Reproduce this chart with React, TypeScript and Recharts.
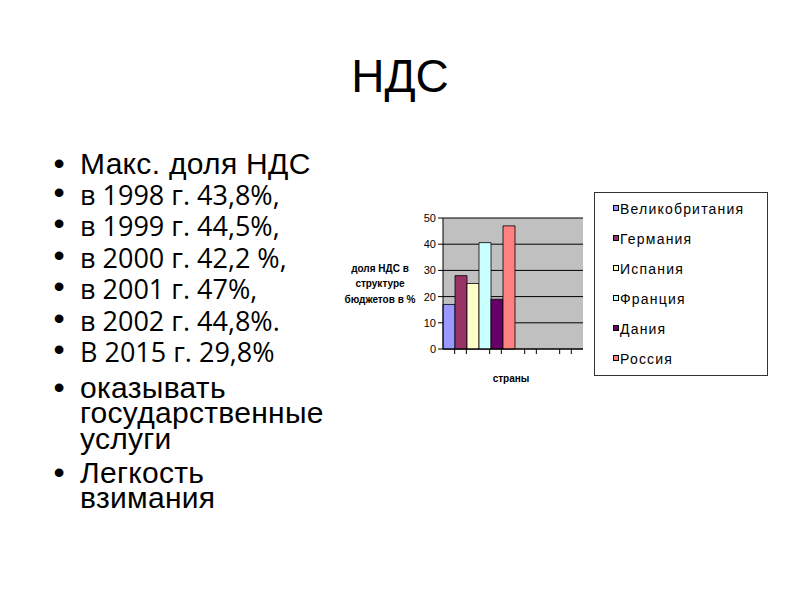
import { Bar, BarChart, CartesianGrid, Legend, XAxis, YAxis } from "recharts";

const countries = ["Великобритания", "Германия", "Испания", "Франция", "Дания", "Россия"];
const vatShare = [17, 28, 25, 40.6, 19, 47];
const barColors = ["#9999FF", "#993366", "#FFFFCC", "#CCFFFF", "#660066", "#FF8080"];
const yTicks = [0, 10, 20, 30, 40, 50];
const xTickMarks = [1, 2, 4, 5, 7, 8, 10, 11];

const yearLines = [
  "в 1998 г. 43,8%,",
  "в 1999 г. 44,5%,",
  "в 2000 г. 42,2 %,",
  "в 2001 г. 47%,",
  "в 2002 г. 44,8%.",
  "В 2015 г. 29,8%",
];
const yearBaselines = [205, 236, 268, 299, 331, 362];

const chartData = [
  { group: "страны", ...Object.fromEntries(countries.map((c, i) => [c, vatShare[i]])) },
];

const arial = "'Liberation Sans', Arial, sans-serif";
const calibri = "'Open Sans', 'Noto Sans', sans-serif";

function LegendBox({ payload }: any) {
  return (
    <div
      style={{
        boxSizing: "border-box",
        width: 174,
        height: 184,
        border: "1px solid #333",
        background: "#fff",
        paddingTop: 1,
        fontFamily: arial,
        fontSize: 14,
        letterSpacing: 1.2,
        color: "#000",
      }}
    >
      {(payload || []).map((entry: any) => (
        <div key={entry.value} style={{ height: 30, lineHeight: "30px", display: "flex", alignItems: "center" }}>
          <span
            style={{
              boxSizing: "border-box",
              width: 6,
              height: 6,
              marginLeft: 18,
              marginRight: 1,
              marginTop: -2,
              background: entry.color,
              border: "1px solid #000",
            }}
          />
          <span>{entry.value}</span>
        </div>
      ))}
    </div>
  );
}

function Bullet({ y }: { y: number }) {
  return (
    <text x={59} y={y} textAnchor="middle" fontFamily={arial} fontSize={32}>
      •
    </text>
  );
}

function ArialLine({ y, children }: { y: number; children: string }) {
  return (
    <text x={80} y={y} fontFamily={arial} fontSize={30} letterSpacing={0.3}>
      {children}
    </text>
  );
}

export default function App() {
  return (
    <div style={{ position: "absolute", left: 0, top: 0, width: 800, height: 600, background: "#fff" }}>
      <svg width={800} height={600} style={{ position: "absolute", left: 0, top: 0 }}>
        <text x={400} y={92} textAnchor="middle" fontFamily={arial} fontSize={46}>
          НДС
        </text>

        <Bullet y={174} />
        <ArialLine y={174}>Макс. доля НДС</ArialLine>
        {yearLines.map((line, i) => (
          <g key={line}>
            <Bullet y={yearBaselines[i] - 2} />
            <text x={80} y={yearBaselines[i]} fontFamily={calibri} fontSize={27}>
              {line}
            </text>
          </g>
        ))}
        <Bullet y={398} />
        <ArialLine y={398}>оказывать</ArialLine>
        <ArialLine y={423}>государственные</ArialLine>
        <ArialLine y={449}>услуги</ArialLine>
        <Bullet y={483} />
        <ArialLine y={483}>Легкость</ArialLine>
        <ArialLine y={508}>взимания</ArialLine>

        <g fontFamily={arial} fontSize={10} fontWeight="bold" textAnchor="middle">
          <text x={380} y={272}>доля НДС в</text>
          <text x={380} y={287}>структуре</text>
          <text x={380} y={303}>бюджетов в %</text>
          <text x={511} y={382}>страны</text>
        </g>
      </svg>

      <div style={{ position: "absolute", left: 340, top: 190 }}>
        <BarChart
          width={440}
          height={210}
          data={chartData}
          margin={{ top: 28, right: 197, bottom: 46, left: 63 }}
          barCategoryGap={0}
          barGap={0}
        >
          <CartesianGrid xAxisId="cat" vertical={false} stroke="#000" fill="#C0C0C0" />
          <XAxis xAxisId="cat" dataKey="group" hide height={0} padding={{ left: 0, right: 70 }} />
          <XAxis
            xAxisId="marks"
            type="number"
            dataKey={() => 0}
            domain={[0, 12]}
            ticks={xTickMarks}
            interval={0}
            allowDataOverflow
            height={5}
            tickSize={5}
            tickFormatter={() => ""}
            axisLine={{ stroke: "#000" }}
            tickLine={{ stroke: "#000" }}
          />
          <YAxis
            domain={[0, 50]}
            ticks={yTicks}
            interval={0}
            width={40}
            tickSize={5}
            axisLine={{ stroke: "#000" }}
            tickLine={{ stroke: "#000" }}
            tick={{ fontSize: 11, fill: "#000", fontFamily: arial }}
          />
          {countries.map((c, i) => (
            <Bar
              key={c}
              xAxisId="cat"
              dataKey={c}
              fill={barColors[i]}
              stroke="#000"
              strokeWidth={0.8}
              isAnimationActive={false}
            />
          ))}
          <Legend
            layout="vertical"
            align="center"
            verticalAlign="middle"
            itemSorter={(item: any) => countries.indexOf(item.value)}
            content={<LegendBox />}
            wrapperStyle={{ left: 254, top: 2, width: 174, height: 184 }}
          />
        </BarChart>
      </div>
    </div>
  );
}
